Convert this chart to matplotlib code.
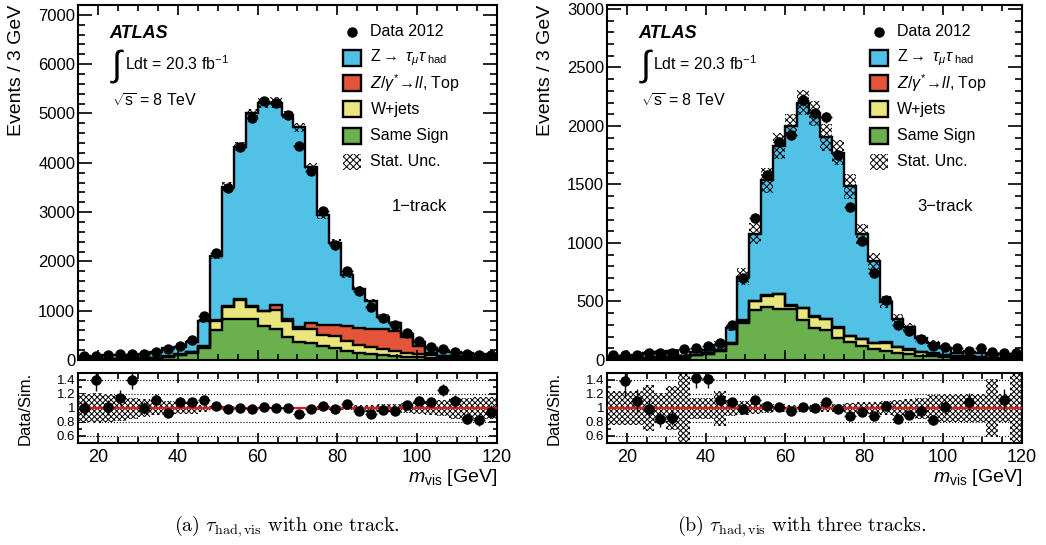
import numpy as np
import matplotlib
matplotlib.use('Agg')
import matplotlib.pyplot as plt
from matplotlib.patches import Rectangle
from matplotlib.ticker import MultipleLocator, FixedLocator, FixedFormatter

plt.rcParams['font.family'] = ['Liberation Sans', 'DejaVu Sans']
plt.rcParams['mathtext.fontset'] = 'custom'
plt.rcParams['mathtext.rm'] = 'Liberation Sans'
plt.rcParams['mathtext.it'] = 'Liberation Sans:italic'
plt.rcParams['mathtext.bf'] = 'Liberation Sans:bold'
plt.rcParams['hatch.linewidth'] = 0.7

# binning: 3 GeV bins from 15 to 120 GeV
edges = np.arange(15, 121, 3)
centers = 0.5 * (edges[:-1] + edges[1:])

# ---- 1-track ----
data_1p = [80, 85, 95, 115, 115, 125, 170, 220, 290, 405, 895, 2180, 3480, 4330, 4900, 5260, 5220, 4960,
           4340, 3840, 3025, 2330, 1805, 1390, 1080, 850, 712, 550, 395, 272, 218, 170, 122, 102, 108]
ss_1p = [15, 17, 20, 22, 25, 28, 35, 60, 100, 140, 250, 600, 840, 840, 840, 680, 630, 460,
         375, 340, 290, 240, 190, 150, 120, 100, 85, 70, 60, 50, 40, 35, 30, 28, 25]
wjets_1p = [3, 3, 4, 4, 5, 5, 6, 8, 10, 15, 20, 200, 240, 380, 240, 310, 380, 340,
            250, 290, 210, 240, 200, 150, 135, 120, 100, 80, 60, 45, 35, 30, 28, 25, 22]
zll_1p = [2, 2, 2, 3, 3, 3, 4, 5, 6, 8, 10, 5, 10, 10, 10, 10, 100, 40,
          50, 120, 220, 220, 300, 345, 380, 400, 395, 320, 170, 50, 15, 12, 10, 10, 8]
ztt_1p = [60, 39, 68, 71, 49, 89, 108, 164, 150, 212, 519, 1312, 2425, 3100, 3910, 4208, 4110, 4120,
          4042, 3168, 2217, 1678, 1029, 803, 552, 256, 162, 59, 69, 105, 83, 78, 76, 60, 59]
unc_1p = [0.20, 0.21, 0.20, 0.18, 0.15, 0.13, 0.10, 0.10, 0.09, 0.08, 0.05, 0.03, 0.025, 0.02, 0.02, 0.02,
          0.02, 0.02, 0.02, 0.02, 0.025, 0.03, 0.03, 0.04, 0.05, 0.06, 0.06, 0.07, 0.08, 0.10, 0.12,
          0.15, 0.15, 0.16, 0.16]

# ---- 3-track ----
data_3p = [43, 43, 43, 57, 57, 63, 94, 100, 120, 142, 299, 704, 1211, 1581, 1866, 1923, 2222, 2108,
           2074, 1752, 1305, 1020, 741, 513, 299, 251, 177, 120, 108, 100, 77, 100, 71, 57, 57]
ss_3p = [12, 12, 14, 16, 18, 20, 20, 40, 50, 75, 135, 315, 425, 450, 440, 440, 345, 272,
         256, 190, 150, 120, 95, 78, 60, 48, 38, 30, 25, 20, 18, 15, 12, 10, 10]
wjets_3p = [2, 2, 2, 3, 3, 3, 3, 4, 5, 6, 8, 20, 80, 100, 120, 25, 97, 98,
            92, 85, 55, 60, 50, 70, 50, 40, 30, 25, 18, 15, 10, 8, 7, 6, 5]
zll_3p = [1, 1, 1, 1, 1, 1, 1, 1, 1, 2, 2, 3, 3, 3, 3, 3, 3, 3,
          3, 3, 3, 3, 3, 3, 3, 3, 3, 3, 2, 2, 2, 2, 1, 1, 1]
ztt_3p = [10, 16, 22, 38, 46, 49, 7, 25, 29, 44, 132, 373, 573, 982, 1266, 1535, 1755, 1735,
          1552, 1492, 1275, 891, 694, 347, 239, 188, 113, 87, 61, 22, 41, 34, 24, 34, 20]
unc_3p = [0.24, 0.24, 0.24, 0.33, 0.22, 0.32, 0.60, 0.15, 0.15, 0.25, 0.12, 0.10, 0.08, 0.07, 0.06, 0.05,
          0.05, 0.05, 0.06, 0.06, 0.07, 0.08, 0.09, 0.10, 0.12, 0.13, 0.15, 0.18, 0.20, 0.20, 0.20,
          0.20, 0.42, 0.20, 0.60]

colors = ['#6ab04c', '#e8e67c', '#e2553a', '#52c1e6']  # SS, W+jets, Z/gamma*->ll+Top, Ztautau
labels = [r'Z$\rightarrow$ $\tau_{\mu}\tau_{\ \mathrm{had}}$', r'$Z/\gamma^{*}\!\rightarrow\!ll$, Top',
          'W+jets', 'Same Sign']

W, H = 1046, 545
fig = plt.figure(figsize=(W / 100, H / 100), dpi=100)


def draw(x0, width, data, ss, wj, zll, ztt, unc, ymax, ymaj, ymin, tag, caption, capx):
    ax = fig.add_axes([x0 / W, 1 - 360 / H, width / W, 355 / H])
    axr = fig.add_axes([x0 / W, 1 - 443 / H, width / W, 70 / H])
    data = np.array(data, float)
    unc = np.array(unc, float)
    cum = np.cumsum(np.array([ss, wj, zll, ztt], float), axis=0)
    total = cum[-1]

    for i in range(3, -1, -1):
        ax.stairs(cum[i], edges, fill=True, facecolor=colors[i], edgecolor='none')
    for i in range(3, -1, -1):
        ax.stairs(cum[i], edges, color='black', lw=1.7)
    ax.stairs(total * (1 + unc), edges, baseline=total * (1 - unc), fill=True,
              facecolor='none', edgecolor='black', lw=0, hatch='xxxxx')
    ax.errorbar(centers, data, yerr=np.sqrt(data), xerr=1.5, fmt='o', color='black',
                ms=6.5, elinewidth=1, capsize=0, zorder=5)

    ax.set_xlim(15, 120)
    ax.set_ylim(0, ymax)
    ax.xaxis.set_major_locator(MultipleLocator(20))
    ax.xaxis.set_minor_locator(MultipleLocator(5))
    ax.yaxis.set_major_locator(MultipleLocator(ymaj))
    ax.yaxis.set_minor_locator(MultipleLocator(ymin))
    ax.tick_params(which='both', direction='in', top=True, right=True, width=1.2,
                   labelbottom=False, labelsize=12, pad=2)
    ax.tick_params(axis='y', which='major', length=10)
    ax.tick_params(axis='y', which='minor', length=5)
    ax.tick_params(axis='x', which='major', length=7)
    ax.tick_params(axis='x', which='minor', length=4)
    for s in ax.spines.values():
        s.set_linewidth(1.5)
    ax.set_ylabel('Events / 3 GeV', fontsize=14, loc='top')
    ax.yaxis.set_label_coords(-53 / width, 1.0)

    # text
    ax.text(0.076, 0.92, 'ATLAS', transform=ax.transAxes, fontsize=13, fontweight='bold',
            fontstyle='italic', va='center')
    ax.text(0.076, 0.828, r'$\int$', transform=ax.transAxes, fontsize=26, va='center')
    ax.text(0.112, 0.817, r'Ldt = 20.3 fb$^{\mathregular{-1}}$', transform=ax.transAxes,
            fontsize=11.5, va='baseline')
    ax.text(0.081, 0.713, r'$\sqrt{\mathrm{s}}$ = 8 TeV', transform=ax.transAxes,
            fontsize=11.5, va='baseline')
    ax.text(0.748, 0.431, tag, transform=ax.transAxes, fontsize=12, va='center')

    # legend
    rows = [0.924, 0.851, 0.780, 0.707, 0.631, 0.558]
    bx, tx, bw, bh = 0.655, 0.698, 0.043, 0.045
    ax.plot([bx], [rows[0]], 'o', color='black', ms=6.5, transform=ax.transAxes, clip_on=False)
    ax.text(tx, rows[0], 'Data 2012', transform=ax.transAxes, fontsize=11.5, va='center')
    for k, (c, lab) in enumerate(zip(colors[::-1], labels)):
        y = rows[k + 1]
        ax.add_patch(Rectangle((bx - bw / 2, y - bh / 2), bw, bh, transform=ax.transAxes,
                               facecolor=c, edgecolor='black', lw=1.7, zorder=6))
        ax.text(tx, y, lab, transform=ax.transAxes, fontsize=11.5, va='center')
    ax.add_patch(Rectangle((bx - bw / 2, rows[5] - bh / 2), bw, bh, transform=ax.transAxes,
                           facecolor='none', edgecolor='black', lw=0, hatch='xxxxx', zorder=6))
    ax.text(tx, rows[5], 'Stat. Unc.', transform=ax.transAxes, fontsize=11.5, va='center')

    # ratio panel
    ratio = data / total
    err = np.sqrt(data) / total
    ok = (ratio > 0.5) & (ratio < 1.5)
    for y in [0.6, 0.8, 1.2, 1.4]:
        axr.axhline(y, color='black', ls=':', lw=0.8, zorder=1)
    axr.stairs(1 + unc, edges, baseline=1 - unc, fill=True, facecolor='white',
               edgecolor='black', lw=0, hatch='xxxxxx', zorder=2)
    axr.axhline(1, color='#e41a1c', lw=1.6, zorder=3)
    axr.errorbar(centers[ok], ratio[ok], yerr=err[ok], xerr=1.5, fmt='o', color='black',
                 ms=6.5, elinewidth=1, capsize=0, zorder=5)
    axr.set_xlim(15, 120)
    axr.set_ylim(0.5, 1.5)
    axr.xaxis.set_major_locator(MultipleLocator(20))
    axr.xaxis.set_minor_locator(MultipleLocator(5))
    axr.yaxis.set_major_locator(FixedLocator([0.6, 0.8, 1.0, 1.2, 1.4]))
    axr.yaxis.set_major_formatter(FixedFormatter(['0.6', '0.8', '1', '1.2', '1.4']))
    axr.yaxis.set_minor_locator(MultipleLocator(0.1))
    axr.tick_params(which='both', direction='in', top=True, right=True, width=1.2)
    axr.tick_params(axis='y', which='major', length=6, labelsize=9.5, pad=2)
    axr.tick_params(axis='y', which='minor', length=3)
    axr.tick_params(axis='x', which='major', length=7, labelsize=13, pad=4)
    axr.tick_params(axis='x', which='minor', length=4)
    for s in axr.spines.values():
        s.set_linewidth(1.5)
    axr.set_ylabel('Data/Sim.', fontsize=12)
    axr.yaxis.set_label_coords(-45 / width, 0.5)
    axr.set_xlabel(r'$m_{\mathrm{vis}}$ [GeV]', fontsize=14, loc='right', labelpad=1)

    fig.text(capx / W, 0.035, caption, fontsize=14.5, ha='center', va='center',
             math_fontfamily='cm')


draw(78, 419, data_1p, ss_1p, wjets_1p, zll_1p, ztt_1p, unc_1p, 7200, 1000, 200, '1\u2212track',
     r'$\mathrm{(a)}\ \tau_{\mathrm{had,vis}}\ \mathrm{with\ one\ track.}$', 287)
draw(607, 415, data_3p, ss_3p, wjets_3p, zll_3p, ztt_3p, unc_3p, 3034, 500, 100, '3\u2212track',
     r'$\mathrm{(b)}\ \tau_{\mathrm{had,vis}}\ \mathrm{with\ three\ tracks.}$', 802)

fig.savefig('out.png', dpi=100)
